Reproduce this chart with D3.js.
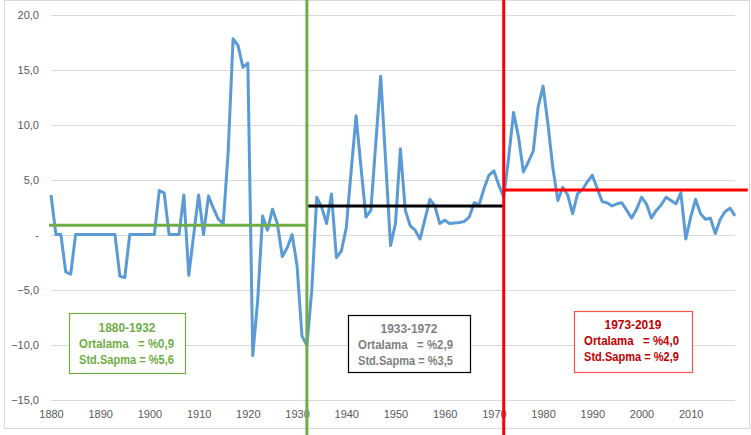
<!DOCTYPE html>
<html>
<head>
<meta charset="utf-8">
<script src="https://cdn.jsdelivr.net/npm/d3@7"></script>
<style>
  body { margin: 0; background: #fff; }
  svg { display: block; font-family: "Liberation Sans", Arial, sans-serif; }
  .axis text { fill: #595959; font-size: 11px; }
  .axis path, .axis line { display: none; }
  .note text { font-size: 12.5px; font-weight: bold; white-space: pre; }
</style>
</head>
<body>
<div id="chart"></div>
<script>
const startYear = 1880;
const values = [
  3.6, 0, 0, -3.4, -3.6, 0, 0, 0, 0, 0,
  0, 0, 0, 0, -3.8, -3.9, 0, 0, 0, 0,
  0, 0, 4.0, 3.8, 0, 0, 0, 3.6, -3.7, 0,
  3.6, 0, 3.5, 2.4, 1.4, 1.0, 7.5, 17.8, 17.2, 15.2,
  15.6, -11.0, -6.0, 1.7, 0.4, 2.3, 1.0, -2.0, -1.2, 0,
  -2.8, -9.2, -10.1, -5.0, 3.4, 2.5, 1.0, 3.7, -2.1, -1.5,
  0.6, 5.8, 10.8, 6.1, 1.6, 2.2, 8.3, 14.4, 6.7, -1.0,
  1.0, 7.8, 2.2, 0.8, 0.4, -0.4, 1.4, 3.2, 2.6, 1.0,
  1.3, 1.0, 1.05, 1.1, 1.2, 1.6, 2.9, 2.7, 4.2, 5.4,
  5.8, 4.5, 3.4, 7.0, 11.1, 8.9, 5.7, 6.6, 7.6, 11.6,
  13.5, 10.0, 6.0, 3.1, 4.3, 3.6, 1.9, 3.7, 4.1, 4.8,
  5.4, 4.2, 3.0, 2.9, 2.6, 2.8, 2.9, 2.2, 1.5, 2.3,
  3.4, 2.8, 1.5, 2.2, 2.7, 3.4, 3.1, 2.8, 3.8, -0.4,
  1.6, 3.2, 1.9, 1.4, 1.5, 0.1, 1.4, 2.1, 2.4, 1.7
];
const series = values.map((v, i) => ({year: startYear + i, value: v}));

const yTicks = [-15, -10, -5, 0, 5, 10, 15, 20];
const xTicks = [1880, 1890, 1900, 1910, 1920, 1930, 1940, 1950, 1960, 1970, 1980, 1990, 2000, 2010];

// period means as drawn (start year, end year, level)
const periodStarts = [1879.6, 1932, 1972];
const periodEnds = [1932, 1972, 2021.6];
const periodMeans = [0.85, 2.6, 4.05];
const periodColors = ['#70AD47', '#000000', '#FF0000'];
const breakYears = [1932, 1972];
const breakColors = ['#70AD47', '#FF0000'];

const noteTitles = ['1880-1932', '1933-1972', '1973-2019'];
const noteMeans = ['%0,9', '%2,9', '%4,0'];
const noteStds = ['%5,6', '%3,5', '%2,9'];

const W = 751, H = 435;
const svg = d3.select('#chart').append('svg')
  .attr('width', W)
  .attr('height', H);

// chart border
svg.append('rect')
  .attr('x', 4.5).attr('y', 0.5)
  .attr('width', 745).attr('height', 428)
  .attr('fill', 'none')
  .attr('stroke', '#D9D9D9');

const x = d3.scaleLinear().domain([1880, 2019]).range([51, 735]);
const y = d3.scaleLinear().domain([-15, 20]).range([399.6, 14.6]);

// gridlines
svg.append('g')
  .selectAll('line')
  .data(yTicks)
  .join('line')
    .attr('x1', 51).attr('x2', 735)
    .attr('y1', d => Math.round(y(d)) + 0.5)
    .attr('y2', d => Math.round(y(d)) + 0.5)
    .attr('stroke', '#D9D9D9');

const fmt = d => d === 0 ? '-' : d3.format('.1f')(d).replace('.', ',');

svg.append('g')
  .attr('class', 'axis')
  .attr('transform', 'translate(51,0)')
  .call(d3.axisLeft(y).tickValues(yTicks).tickFormat(fmt).tickSize(0).tickPadding(12));

svg.append('g')
  .attr('class', 'axis')
  .attr('transform', 'translate(0,' + 404 + ')')
  .call(d3.axisBottom(x).tickValues(xTicks).tickFormat(d3.format('d')).tickSize(0).tickPadding(6));

// data line
const line = d3.line()
  .x(d => x(d.year))
  .y(d => y(d.value));

svg.append('path')
  .datum(series)
  .attr('fill', 'none')
  .attr('stroke', '#5B9BD5')
  .attr('stroke-width', 3)
  .attr('stroke-linejoin', 'round')
  .attr('d', line);

// period mean lines
svg.append('g')
  .selectAll('line')
  .data(periodMeans)
  .join('line')
    .attr('x1', (d, i) => x(periodStarts[i]))
    .attr('x2', (d, i) => x(periodEnds[i]))
    .attr('y1', d => y(d))
    .attr('y2', d => y(d))
    .attr('stroke', (d, i) => periodColors[i])
    .attr('stroke-width', 3);

// break lines
svg.append('g')
  .selectAll('line')
  .data(breakYears)
  .join('line')
    .attr('x1', d => x(d)).attr('x2', d => x(d))
    .attr('y1', 0).attr('y2', H)
    .attr('stroke', (d, i) => breakColors[i])
    .attr('stroke-width', 3);

// notes (narrowed with textLength to mimic Calibri)
const notes = [
  {x: 69, y: 313, w: 116, h: 60, border: '#70AD47', color: '#70AD47', lx: 79, ty: 332},
  {x: 348, y: 315, w: 122, h: 57, border: '#000000', color: '#7F7F7F', lx: 358, ty: 333},
  {x: 574, y: 311, w: 118, h: 61, border: '#FF5050', color: '#C00000', lx: 584, ty: 329}
];

notes.forEach((n, i) => {
  const g = svg.append('g').attr('class', 'note');
  g.append('rect')
    .attr('x', n.x + 0.5).attr('y', n.y + 0.5)
    .attr('width', n.w).attr('height', n.h)
    .attr('fill', '#fff')
    .attr('stroke', n.border)
    .attr('stroke-width', 1.2);
  g.append('text')
    .attr('x', n.x + n.w / 2).attr('y', n.ty)
    .attr('text-anchor', 'middle')
    .attr('fill', n.color)
    .attr('textLength', 57)
    .attr('lengthAdjust', 'spacingAndGlyphs')
    .text(noteTitles[i]);
  const rows = ['Ortalama   = ' + noteMeans[i], 'Std.Sapma = ' + noteStds[i]];
  rows.forEach((r, j) => {
    g.append('text')
      .attr('x', n.lx).attr('y', n.ty + 16 * (j + 1))
      .attr('fill', n.color)
      .attr('textLength', 95)
      .attr('lengthAdjust', 'spacingAndGlyphs')
      .text(r);
  });
});
</script>
</body>
</html>
